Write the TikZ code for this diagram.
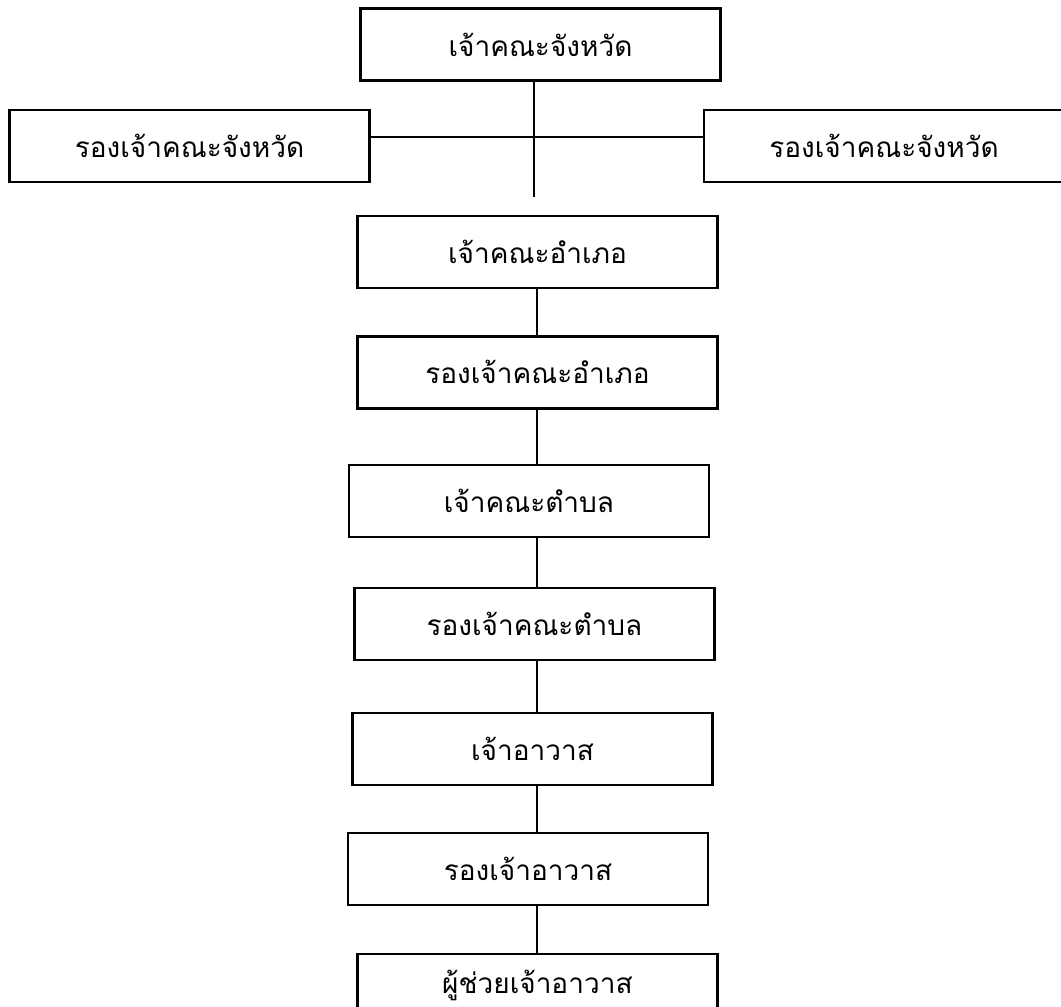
\documentclass[tikz,border=0pt]{standalone}
\usepackage{fontspec}
\newfontfamily\thaifont[Script=Thai]{Loma}
\usetikzlibrary{positioning}
\tikzset{
  box/.style={rectangle, draw=black, line width=1.7pt, minimum width=270pt, minimum height=54pt, font=\thaifont\fontsize{21}{25}\selectfont},
  connect/.style={line width=0.8pt}
}

\begin{document}
\begin{tikzpicture}[x=0.75pt,y=-0.75pt]
  \useasboundingbox (0,0) rectangle (1061,1007);
  \node[box] (PC) at (540.5,44.5) {เจ้าคณะจังหวัด};
  \node[box] (PDL) at (189.5,146) {รองเจ้าคณะจังหวัด};
  \node[box] (PDR) at (884,146) {รองเจ้าคณะจังหวัด};
  \node[box] (DC) [below=100pt of PC, xshift=-2.25pt] {เจ้าคณะอำเภอ};
  \node[box] (DDC) [below=34.5pt of DC] {รองเจ้าคณะอำเภอ};
  \node[box] (SC) [below=40.5pt of DDC, xshift=-6.4pt] {เจ้าคณะตำบล};
  \node[box] (DSC) [below=36.75pt of SC, xshift=4.1pt] {รองเจ้าคณะตำบล};
  \node[box] (AB) [below=38.25pt of DSC, xshift=-1.5pt] {เจ้าอาวาส};
  \node[box] (DAB) [below=34.1pt of AB, xshift=-3.4pt] {รองเจ้าอาวาส};
  \node[box] (AAB) [below=34.9pt of DAB, xshift=7.1pt] {\raisebox{12pt}{ผู้ช่วยเจ้าอาวาส}};

  \coordinate (hub) at (534,137);
  \coordinate (hubend) at (534,197);
  \coordinate (axis) at (537,0);
  \draw[connect] (PC.south -| hub) -- (hubend);
  \draw[connect] (PDL.east |- hub) -- (PDR.west |- hub);
  \draw[connect] (DC.south -| axis) -- (DDC.north -| axis);
  \draw[connect] (DDC.south -| axis) -- (SC.north -| axis);
  \draw[connect] (SC.south -| axis) -- (DSC.north -| axis);
  \draw[connect] (DSC.south -| axis) -- (AB.north -| axis);
  \draw[connect] (AB.south -| axis) -- (DAB.north -| axis);
  \draw[connect] (DAB.south -| axis) -- (AAB.north -| axis);
\end{tikzpicture}
\end{document}
